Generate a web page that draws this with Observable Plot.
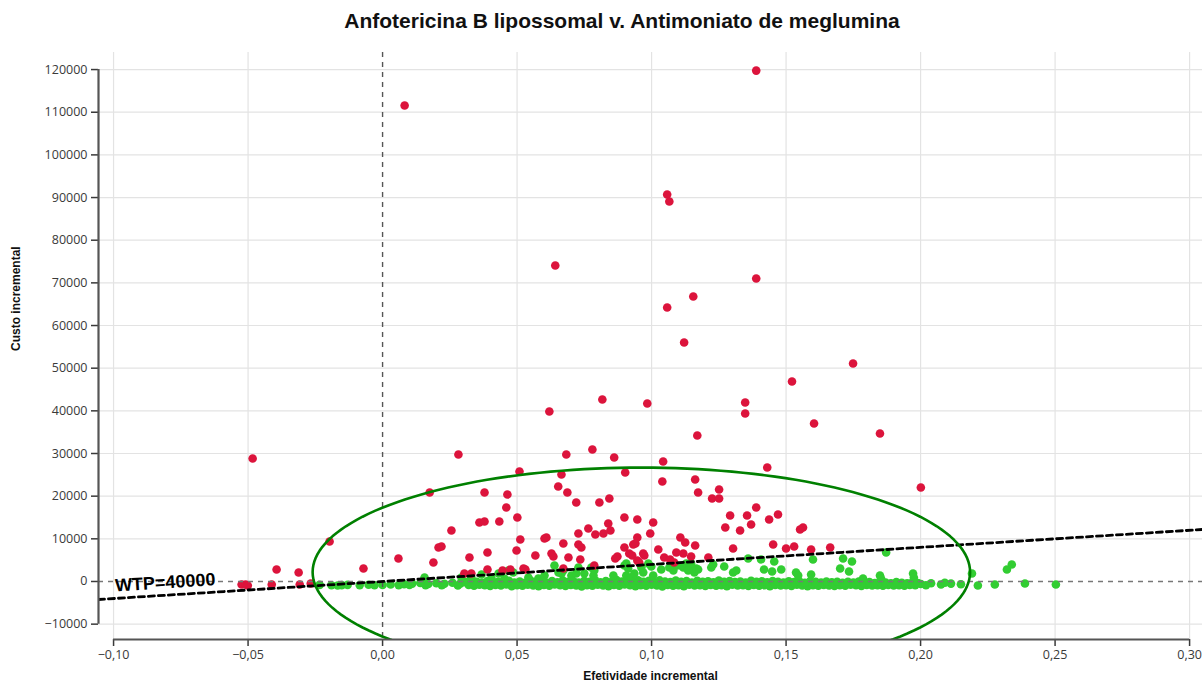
<!DOCTYPE html>
<html><head><meta charset="utf-8">
<script src="https://cdn.jsdelivr.net/npm/d3@7"></script>
<script src="https://cdn.jsdelivr.net/npm/@observablehq/plot@0.6"></script>
<style>
html,body{margin:0;padding:0;background:#fff;overflow:hidden;width:1202px;height:683px}
#wrap{position:relative;width:1202px;height:683px}
#title{position:absolute;top:9px;left:622px;transform:translateX(-50%);white-space:nowrap;font-family:"Liberation Sans",Arial,sans-serif;font-weight:bold;font-size:21px;color:#111}
#chart{position:absolute;top:40px;left:0}
</style></head><body>
<div id="wrap"><div id="title">Anfotericina B lipossomal v. Antimoniato de meglumina</div><div id="chart"></div></div>
<script>
const titleText = "Anfotericina B lipossomal v. Antimoniato de meglumina";
const xLabel = "Efetividade incremental";
const yLabel = "Custo incremental";
const wtpLabel = "WTP=40000";
const WTP = 40000;

const xTicks = [-0.10, -0.05, 0.00, 0.05, 0.10, 0.15, 0.20, 0.25, 0.30];
const yTicks = [-10000, 0, 10000, 20000, 30000, 40000, 50000, 60000, 70000, 80000, 90000, 100000, 110000, 120000];
const xDomain = [-0.1056, 0.3048];
const yDomain = [-13600, 124000];

// ellipse (confidence region) parameters
const ellipseCenter = [0.0962, 2200];
const ellipseRadii = [0.1222, 24500];

// points above the WTP threshold (red)
const redPoints = [[0.0082,111560],[0.1389,119760],[0.1058,90700],[0.1066,89060],[0.0642,74060],[0.1389,71010],[0.1058,64220],[0.1155,66790],[0.1121,56010],[0.1749,51090],[0.1522,46870],[-0.0483,28830],[0.0817,42650],[0.0984,41720],[0.1348,41950],[0.1348,39370],[0.062,39840],[0.1604,37030],[0.1849,34690],[0.117,34220],[0.0282,29760],[0.078,30940],[0.0683,29760],[0.0861,29060],[0.1043,28120],[0.143,26720],[0.0902,25550],[0.0509,25780],[0.0665,25080],[0.104,23440],[0.1162,23900],[0.2001,22030],[0.0175,20860],[0.0379,20860],[0.0464,20390],[0.0653,22260],[0.0687,20860],[0.1173,20860],[0.1251,21560],[0.1225,19450],[0.1251,19450],[0.072,18520],[0.0806,18520],[0.0843,19450],[0.046,17340],[0.1389,17340],[0.0501,15000],[0.0899,15000],[0.0947,14530],[0.1292,15470],[0.1355,15470],[0.147,15700],[0.1437,14530],[0.036,13830],[0.0379,14060],[0.0434,14060],[0.1006,13830],[0.0839,13590],[0.137,13360],[0.1274,12660],[0.1563,12660],[0.0256,11950],[0.0847,11950],[0.0765,12420],[0.1329,11950],[0.1552,12190],[0.0728,11250],[0.0791,11010],[0.0821,11250],[0.0995,11250],[0.0947,10310],[0.1107,10310],[0.1125,9140],[-0.0197,9370],[0.0512,9840],[0.0602,10080],[0.0609,10310],[0.0208,7970],[0.0219,8200],[0.0059,5390],[-0.0071,3050],[0.0189,4450],[0.0323,5620],[0.039,6800],[0.0498,7270],[0.0568,6090],[0.0628,6560],[0.0635,5860],[0.0672,8910],[0.0691,5620],[0.0728,8670],[0.0739,7970],[0.0735,5160],[0.0899,7970],[0.0932,8670],[0.094,8910],[0.0917,6560],[0.0928,6090],[0.0865,5390],[0.0873,5860],[0.0947,4920],[0.0954,4450],[0.0969,6560],[0.0973,6090],[0.1025,7500],[0.1162,8440],[0.1092,6800],[0.1118,6560],[0.1147,5860],[0.1047,5620],[0.1069,5160],[0.1084,4450],[0.1211,5620],[0.1303,7730],[0.1452,8670],[0.15,7730],[0.153,8200],[0.1593,7500],[0.1664,7970],[0.0304,1870],[0.033,1870],[0.039,2810],[0.0446,2580],[0.0475,2810],[0.0524,3050],[0.0531,2810],[0.0672,3050],[0.0787,3750],[-0.0394,2810],[-0.0312,2110],[-0.0412,-700],[-0.0308,-700],[-0.0267,-470],[-0.0524,-700],[-0.0509,-700],[-0.0501,-940]];

// points below the WTP threshold (green): scattered points above the band
const greenUpper = [[0.0899,3750],[0.0913,3050],[0.0906,1410],[0.0925,940],[0.0936,1870],[0.0969,2110],[0.0999,3520],[0.1006,1410],[0.1036,2810],[0.1066,3280],[0.1081,2580],[0.1095,3750],[0.1118,3280],[0.1129,4220],[0.114,3280],[0.1159,2110],[0.1173,2810],[0.1222,3280],[0.1229,3980],[0.127,3520],[0.1303,2110],[0.1315,2580],[0.1359,5390],[0.1407,5160],[0.1418,2810],[0.1448,2340],[0.1456,4690],[0.1482,2810],[0.1537,2110],[0.1545,1410],[0.1593,1640],[0.16,5160],[0.1712,5390],[0.1745,4690],[0.1701,3050],[0.1734,2340],[0.1786,700],[0.1849,1410],[0.1853,700],[0.1872,6800],[0.1972,1870],[0.1975,940],[0.2191,1870],[0.2321,2810],[0.2339,3980],[0.0906,4220],[0.0962,3280],[0.0988,4220],[0.0654,2110],[0.0665,1870],[0.0702,1410],[0.075,1870],[0.0776,3280],[0.0787,2580],[0.0542,940],[0.0579,700],[0.0602,1410],[0.0405,700],[0.0453,700],[0.0468,2580],[0.0486,2110],[0.0639,3750],[0.0672,2580],[0.0368,1640],[0.0431,1870],[0.0728,3280],[0.072,1870],[0.0293,940],[0.033,940],[0.0156,940],[0.0784,1410],[0.0858,1410],[0.1147,4220],[0.1166,3050],[0.1136,2580],[0.111,3750]];
// green: dense band just below zero, upper row
const greenBandA = [[0.011,-500],[0.014,-350],[0.017,-600],[0.020,-400],[0.023,-550],[0.026,-300],[0.029,-450],[0.031,-150],[0.033,-250],[0.035,-50],[0.037,-300],[0.039,100],[0.041,-200],[0.043,-50],[0.045,-350],[0.047,150],[0.049,-250],[0.051,0],[0.053,-300],[0.055,200],[0.057,-150],[0.059,-50],[0.061,-300],[0.063,100],[0.065,-200],[0.067,250],[0.069,-100],[0.071,50],[0.073,-250],[0.075,150],[0.077,-100],[0.079,300],[0.081,-200],[0.083,100],[0.085,-150],[0.087,350],[0.089,0],[0.091,200],[0.093,-100],[0.095,300],[0.097,-50],[0.099,150],[0.101,-200],[0.103,250],[0.105,0],[0.107,-150],[0.109,200],[0.111,-50],[0.113,100],[0.115,-250],[0.117,150],[0.119,-100],[0.121,50],[0.123,-200],[0.125,200],[0.127,-50],[0.129,100],[0.131,-150],[0.133,0],[0.135,-250],[0.137,150],[0.139,-100],[0.141,50],[0.143,-200],[0.145,100],[0.147,-50],[0.149,-250],[0.151,50],[0.153,-150],[0.155,0],[0.157,-300],[0.159,100],[0.161,-100],[0.163,-250],[0.165,0],[0.167,-200],[0.169,-50],[0.171,-300],[0.173,-100],[0.175,-250],[0.177,0],[0.179,-300],[0.181,-150],[0.183,-350],[0.185,-100],[0.187,-250],[0.189,-400],[0.191,-150],[0.193,-300],[0.195,-450],[0.197,-200],[0.199,-350]];
// green: dense band, lower row
const greenBandB = [[0.010,-800],[0.016,-900],[0.022,-850],[0.028,-950],[0.032,-800],[0.034,-1000],[0.036,-750],[0.038,-900],[0.040,-1050],[0.042,-800],[0.044,-950],[0.046,-700],[0.048,-1100],[0.050,-850],[0.052,-1000],[0.054,-750],[0.056,-950],[0.058,-1100],[0.060,-800],[0.062,-1000],[0.064,-700],[0.066,-900],[0.068,-1050],[0.070,-800],[0.072,-950],[0.074,-1150],[0.076,-850],[0.078,-1000],[0.080,-750],[0.082,-950],[0.084,-1100],[0.086,-800],[0.088,-1000],[0.090,-700],[0.092,-900],[0.094,-1100],[0.096,-850],[0.098,-1000],[0.100,-750],[0.102,-950],[0.104,-1150],[0.106,-800],[0.108,-1000],[0.110,-900],[0.112,-1100],[0.114,-750],[0.116,-950],[0.118,-850],[0.120,-1050],[0.122,-800],[0.124,-1000],[0.126,-900],[0.128,-1100],[0.130,-750],[0.132,-950],[0.134,-850],[0.136,-1050],[0.138,-800],[0.140,-1000],[0.142,-900],[0.144,-1100],[0.146,-800],[0.148,-950],[0.150,-850],[0.152,-1050],[0.154,-750],[0.156,-950],[0.158,-1100],[0.160,-850],[0.162,-1000],[0.164,-800],[0.166,-950],[0.168,-1050],[0.170,-850],[0.172,-1000],[0.174,-750],[0.176,-900],[0.178,-1050],[0.180,-800],[0.182,-950],[0.184,-850],[0.186,-1000],[0.188,-800],[0.190,-950],[0.192,-850],[0.194,-1000],[0.196,-800],[0.198,-900]];
// green: sparse tails left and right
const greenTails = [[-0.0234,-800],[-0.019,-900],[-0.0167,-950],[-0.0152,-850],[-0.013,-800],[-0.0085,-850],[-0.0052,-750],[-0.003,-900],[0.0,-800],[0.003,-700],[0.006,-850],[0.008,-650],[0.2001,-600],[0.2039,-400],[0.2076,-700],[0.2113,-500],[0.215,-650],[0.202,-900],[0.209,-300],[0.2213,-940],[0.2276,-700],[0.2388,-470],[0.2503,-700]];

const toObj = ([x, y]) => ({x, y});
const red = redPoints.map(toObj);
const green = [...greenBandB, ...greenBandA, ...greenTails, ...greenUpper].map(toObj);

// ellipse outline from its centre and radii
const ellipse = d3.range(0, 361, 2).map(a => {
  const t = a * Math.PI / 180;
  return {x: ellipseCenter[0] + ellipseRadii[0] * Math.cos(t), y: ellipseCenter[1] + ellipseRadii[1] * Math.sin(t)};
});

const wtpX = [xDomain[0], xDomain[1]];

const locale = d3.formatLocale({decimal: ",", thousands: ".", grouping: [3], currency: ["", ""], minus: "\u2212"});
const fmtX = locale.format(".2f");
const fmtY = d => d < 0 ? "\u2212" + Math.abs(d) : String(d);

const sans = "'Liberation Sans', Arial, sans-serif";

const chart = Plot.plot({
  width: 1202, height: 643,
  marginLeft: 98, marginRight: 0, marginTop: 12, marginBottom: 44,
  x: {domain: xDomain},
  y: {domain: yDomain},
  style: {fontFamily: "'Open Sans', sans-serif", background: "#fff", overflow: "visible"},
  marks: [
    Plot.ruleX(xTicks.filter(d => d !== 0), {stroke: "#e3e3e3", strokeWidth: 1.2}),
    Plot.ruleY(yTicks.filter(d => d !== 0), {stroke: "#e3e3e3", strokeWidth: 1.2}),
    Plot.dot(green, {x: "x", y: "y", r: 4.3, fill: "#32cd32"}),
    Plot.dot(red, {x: "x", y: "y", r: 4.3, fill: "#dc143c"}),
    Plot.ruleX([0], {stroke: "#555", strokeWidth: 1.4, strokeDasharray: "5,5"}),
    Plot.ruleY([0], {stroke: "#777", strokeWidth: 1.4, strokeDasharray: "5,5"}),
    Plot.line(wtpX, {x: d => d, y: d => WTP * d, stroke: "#000", strokeWidth: 2.8, strokeDasharray: "6,4", clip: true}),
    Plot.line(ellipse, {x: "x", y: "y", stroke: "#008000", strokeWidth: 2.6, clip: true}),
    Plot.text([wtpLabel], {x: -0.0808, y: -250, text: d => d, rotate: -3.6, fontSize: 18, fontWeight: "bold", fontFamily: sans, fill: "#000"}),
    Plot.axisY(yTicks, {tickSize: 7, tickPadding: 4, tickFormat: fmtY, fontSize: 12.5, color: "#3a3a3a", strokeWidth: 1.5, label: null}),
    Plot.axisX(xTicks, {tickSize: 7, tickPadding: 4, tickFormat: fmtX, fontSize: 12.5, color: "#3a3a3a", strokeWidth: 1.5, label: null}),
    Plot.ruleX([xDomain[0]], {y1: yTicks[0], y2: yTicks[yTicks.length - 1], stroke: "#555", strokeWidth: 2.2}),
    Plot.ruleY([yDomain[0]], {x1: xTicks[0], x2: xTicks[xTicks.length - 1], stroke: "#555", strokeWidth: 2.2}),
    Plot.text([yLabel], {frameAnchor: "left", dx: -82, dy: 5, rotate: -90, text: d => d, fontSize: 12, fontWeight: "bold", fontFamily: sans, fill: "#111"}),
    Plot.text([xLabel], {frameAnchor: "bottom", dy: 40, text: d => d, fontSize: 12, fontWeight: "bold", fontFamily: sans, fill: "#111"})
  ]
});
document.getElementById("title").textContent = titleText;
document.getElementById("chart").appendChild(chart);
</script>
</body></html>
